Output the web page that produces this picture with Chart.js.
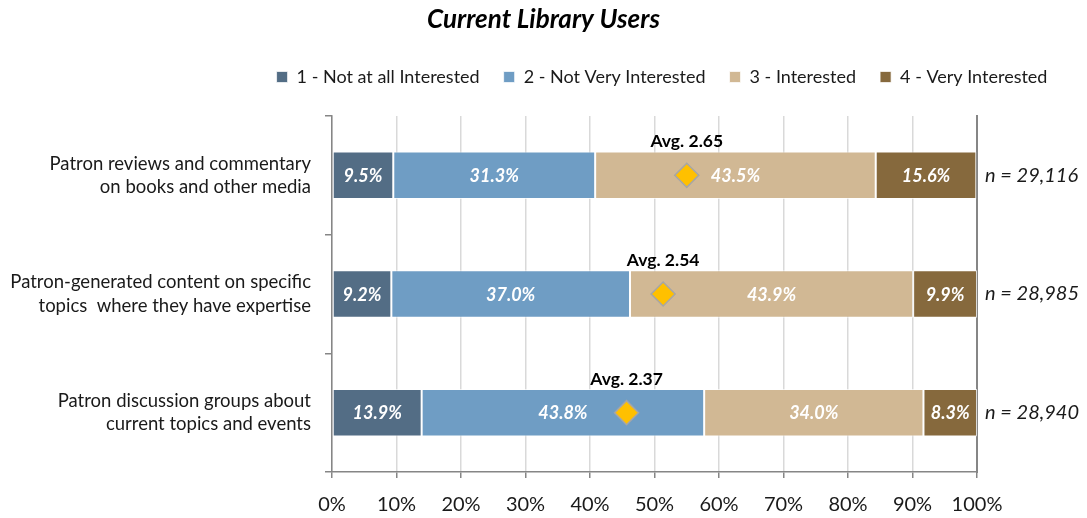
<!DOCTYPE html>
<html>
<head>
<meta charset="utf-8">
<script src="https://cdn.jsdelivr.net/npm/chart.js@4/dist/chart.umd.min.js"></script>
<style>
  html, body { margin: 0; padding: 0; background: #ffffff; }
  #wrap { position: relative; width: 1087px; height: 518px; }
</style>
</head>
<body>
<div id="wrap"><canvas id="c" width="1087" height="518"></canvas></div>
<script>
// ---- data ----
const chartTitle = "Current Library Users";
const categories = [
  ["Patron reviews and commentary", "on books and other media"],
  ["Patron-generated content on specific", "topics  where they have expertise"],
  ["Patron discussion groups about", "current topics and events"]
];
const seriesNames = ["1 - Not at all Interested", "2 - Not Very Interested", "3 - Interested", "4 - Very Interested"];
const notAtAllInterested = [9.5, 9.2, 13.9];
const notVeryInterested = [31.3, 37.0, 43.8];
const interested = [43.5, 43.9, 34.0];
const veryInterested = [15.6, 9.9, 8.3];
const averages = [2.65, 2.54, 2.37];
const sampleSizes = ["n = 29,116", "n = 28,985", "n = 28,940"];
const xTickValues = [0, 10, 20, 30, 40, 50, 60, 70, 80, 90, 100];
const scaleMin = 1, scaleMax = 4; // rating scale mapped onto 0-100% axis

// ---- styles ----
const FONT = "Lato, 'Noto Sans', sans-serif";
const seriesColors = ["#536D85", "#6F9DC4", "#D1B894", "#86693D"];
const axisGray = "#868686";

const seriesValues = [notAtAllInterested, notVeryInterested, interested, veryInterested];
const avgPositions = averages.map(a => (a - scaleMin) / (scaleMax - scaleMin) * 100);

const barDatasets = seriesNames.map((name, i) => ({
  type: "bar",
  label: name,
  data: seriesValues[i],
  backgroundColor: seriesColors[i],
  borderColor: "rgba(255,255,255,0.7)",
  borderWidth: 1,
  borderSkipped: false,
  categoryPercentage: 1.0,
  barPercentage: 0.4,
  order: 1
}));

const avgDataset = {
  type: "line",
  label: "Average",
  data: avgPositions,
  showLine: false,
  pointStyle: "rectRot",
  pointRadius: 12,
  pointBackgroundColor: "#FFC000",
  pointBorderColor: "#A6A6A6",
  pointBorderWidth: 1.5,
  order: 0
};

const labelsPlugin = {
  id: "labelsPlugin",
  afterLayout(chart) {
    const lg = chart.legend;
    if (lg) {
      const center = 662;
      lg.left = 2 * center - lg.right;
    }
  },
  afterDatasetsDraw(chart) {
    const ctx = chart.ctx;
    ctx.save();
    ctx.textAlign = "center";
    ctx.textBaseline = "middle";
    // segment labels
    ctx.font = "italic bold 18px " + FONT;
    ctx.fillStyle = "#ffffff";
    for (let d = 0; d < seriesNames.length; d++) {
      const meta = chart.getDatasetMeta(d);
      meta.data.forEach((el, i) => {
        const v = seriesValues[d][i];
        const cx = (el.x + el.base) / 2;
        ctx.fillText(v.toFixed(1) + "%", cx, el.y + 1);
      });
    }
    // average labels
    const avgMeta = chart.getDatasetMeta(seriesNames.length);
    const barMeta = chart.getDatasetMeta(0);
    ctx.font = "bold 17.5px " + FONT;
    ctx.fillStyle = "#000000";
    avgMeta.data.forEach((pt, i) => {
      const bar = barMeta.data[i];
      const top = bar.y - bar.height / 2;
      ctx.fillText("Avg. " + averages[i].toFixed(2), pt.x, top - 10);
    });
    ctx.restore();
  }
};

new Chart(document.getElementById("c"), {
  data: {
    labels: categories,
    datasets: [...barDatasets, avgDataset]
  },
  options: {
    indexAxis: "y",
    responsive: false,
    animation: false,
    events: [],
    layout: { padding: 0 },
    plugins: {
      title: {
        display: true,
        text: chartTitle,
        color: "#000000",
        font: { family: FONT, size: 26, weight: "bold", style: "italic", lineHeight: 1.2 },
        padding: { top: 4.4, bottom: 8.4 }
      },
      legend: {
        display: true,
        position: "top",
        labels: {
          filter: item => item.datasetIndex < seriesNames.length,
          boxWidth: 11,
          boxHeight: 11,
          padding: 24,
          color: "#1a1a1a",
          font: { family: FONT, size: 18 }
        }
      },
      tooltip: { enabled: false }
    },
    scales: {
      x: {
        type: "linear",
        stacked: true,
        min: 0,
        max: 100,
        afterBuildTicks(scale) { scale.ticks = xTickValues.map(v => ({ value: v })); },
        ticks: {
          callback: v => v + "%",
          color: "#1a1a1a",
          font: { family: FONT, size: 20 },
          padding: 15
        },
        grid: { color: "#D9D9D9", lineWidth: 1.5, tickColor: axisGray, tickLength: 6 },
        border: { color: axisGray, width: 1.5 },
        afterFit(scale) { scale.height = 46; }
      },
      xTop: {
        type: "linear",
        position: "top",
        display: true,
        grid: { display: false },
        border: { display: false },
        ticks: { display: false },
        afterFit(scale) { scale.height = 20; }
      },
      y: {
        type: "category",
        stacked: true,
        position: "left",
        offset: true,
        ticks: {
          color: "#1a1a1a",
          font: { family: FONT, size: 18.5, lineHeight: 1.25 },
          padding: 14
        },
        grid: { drawOnChartArea: false, color: axisGray, tickLength: 7, lineWidth: 1.5, offset: true },
        border: { color: axisGray, width: 1.5 },
        afterFit(scale) { scale.width = 332; }
      },
      y2: {
        type: "category",
        position: "right",
        labels: sampleSizes,
        offset: true,
        ticks: {
          color: "#1a1a1a",
          font: { family: FONT, size: 20, style: "italic" },
          padding: 8
        },
        grid: { drawOnChartArea: false, drawTicks: false },
        border: { color: axisGray, width: 2 },
        afterFit(scale) { scale.width = 110; }
      }
    }
  },
  plugins: [labelsPlugin]
});
</script>
</body>
</html>
